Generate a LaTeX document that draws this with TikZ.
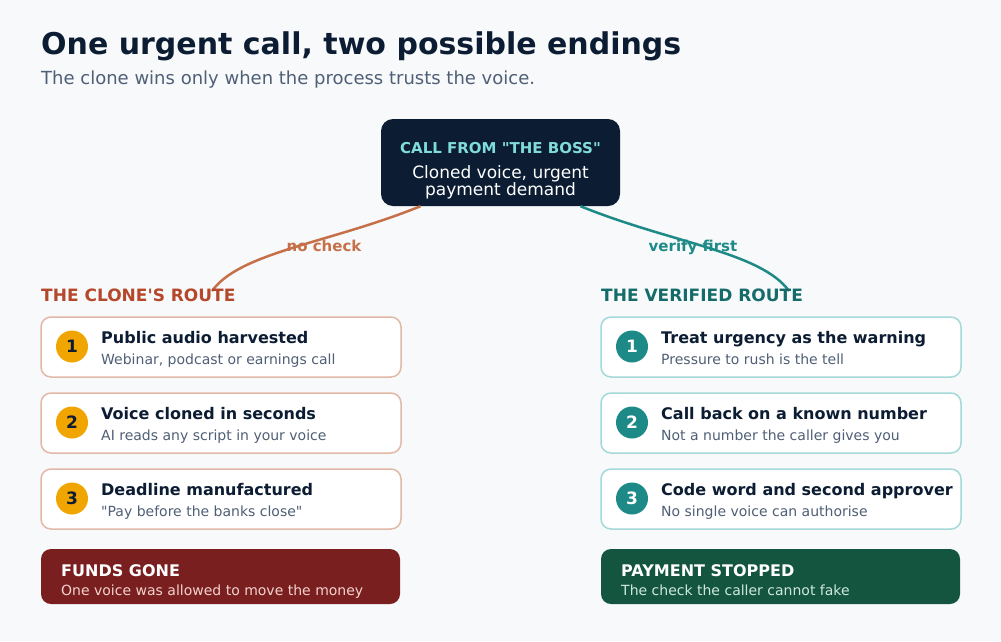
\documentclass[tikz,border=0pt]{standalone}
\usepackage{fontspec}
\setmainfont{DejaVu Sans}[Ligatures=TeXOff]
\usetikzlibrary{positioning}
\definecolor{pagebg}{HTML}{F7F9FB}
\definecolor{navy}{HTML}{0C1D33}
\definecolor{slate}{HTML}{4F5F76}
\definecolor{clonehead}{HTML}{B5482A}
\definecolor{cloneline}{HTML}{C6704A}
\definecolor{cloneedge}{HTML}{E2B8A6}
\definecolor{amber}{HTML}{F0A500}
\definecolor{verifyhead}{HTML}{146B69}
\definecolor{verifyline}{HTML}{1E8A87}
\definecolor{verifyedge}{HTML}{A4D9D7}
\definecolor{callteal}{HTML}{80DCDA}
\definecolor{lossred}{HTML}{7A1F20}
\definecolor{losstext}{HTML}{F2D3CF}
\definecolor{savegreen}{HTML}{13553F}
\definecolor{savetext}{HTML}{CFE8DD}
\newcommand{\fsz}[1]{\fontsize{#1}{#1}\selectfont}

\begin{document}
\begin{tikzpicture}[x=1pt, y=-1pt,
    txt/.style={inner sep=0pt, anchor=base west},
    card/.style={draw, line width=1.5pt, fill=white, rounded corners=10pt,
        minimum width=360pt, minimum height=60pt, inner sep=0pt},
    numdot/.style={circle, minimum size=32pt, inner sep=0pt, font=\fsz{17}\bfseries},
    endbox/.style={rounded corners=10pt, minimum width=359pt, minimum height=55pt, inner sep=0pt},
    route/.style={line width=2.5pt}]
        \fill[pagebg] (0,0) rectangle (1001,641);
        % title
        \node[txt, text=navy, font=\fsz{30}\bfseries] (title) at (41,54) {One urgent call, two possible endings};
        \node[txt, text=slate, font=\fsz{18}] (subtitle) at (41,84) {The clone wins only when the process trusts the voice.};
        % the call
        \node[fill=navy, rounded corners=12pt, minimum width=239pt, minimum height=87pt] (call) at (500.5,162.5) {};
        \node[inner sep=0pt, anchor=base, text=callteal, font=\fsz{15}\bfseries] (callhead) at (500.5,153.3) {CALL FROM "THE BOSS"};
        \node[inner sep=0pt, anchor=base, text=white, font=\fsz{17}] (callline1) at (500.5,178.5) {Cloned voice, urgent};
        \node[inner sep=0pt, anchor=base, text=white, font=\fsz{17}] (callline2) at (500.5,195.5) {payment demand};
        % two routes
        \coordinate (clonein) at (212,291);
        \coordinate (verifyin) at (789,291);
        \draw[route, cloneline] ([xshift=-80pt]call.south) .. controls (330,243) and (240,252) .. (clonein);
        \draw[route, verifyline] ([xshift=80pt]call.south) .. controls (671,243) and (761,252) .. (verifyin);
        \node[inner sep=0pt, anchor=base, text=cloneline, font=\fsz{15}\bfseries] (nocheck) at (324,251) {no check};
        \node[inner sep=0pt, anchor=base, text=verifyline, font=\fsz{15}\bfseries] (verify) at (693,251) {verify first};
        \node[txt, text=clonehead, font=\fsz{17}\bfseries] (clonehd) at (41,301) {THE CLONE'S ROUTE};
        \node[txt, text=verifyhead, font=\fsz{17}\bfseries] (verifyhd) at (601,301) {THE VERIFIED ROUTE};
        % left steps
        \foreach \n/\ttl/\sub [count=\i from 0] in {1/{Public audio harvested}/{Webinar, podcast or earnings call},
                2/{Voice cloned in seconds}/{AI reads any script in your voice},
                3/{Deadline manufactured}/{"Pay before the banks close"}}{
            \node[card, draw=cloneedge] (cstep\n) at (221,347+76*\i) {};
            \node[numdot, fill=amber, text=navy] (cnum\n) at (72,346.5+76*\i) {\n};
            \node[txt, text=navy, font=\fsz{16}\bfseries] (ctitle\n) at (101,343.5+76*\i) {\ttl};
            \node[txt, text=slate, font=\fsz{14}] (csub\n) at (101,364+76*\i) {\sub};
        }
        % right steps
        \foreach \n/\ttl/\sub [count=\i from 0] in {1/{Treat urgency as the warning}/{Pressure to rush is the tell},
                2/{Call back on a known number}/{Not a number the caller gives you},
                3/{Code word and second approver}/{No single voice can authorise}}{
            \node[card, draw=verifyedge] (vstep\n) at (781,347+76*\i) {};
            \node[numdot, fill=verifyline, text=white] (vnum\n) at (632,346.5+76*\i) {\n};
            \node[txt, text=navy, font=\fsz{16}\bfseries] (vtitle\n) at (661,343.5+76*\i) {\ttl};
            \node[txt, text=slate, font=\fsz{14}] (vsub\n) at (661,364+76*\i) {\sub};
        }
        % endings
        \node[endbox, fill=lossred] (lost) at (220.5,576.5) {};
        \node[txt, text=white, font=\fsz{16}\bfseries] (losthd) at (61,576) {FUNDS GONE};
        \node[txt, text=losstext, font=\fsz{14}] (lostsub) at (61,595) {One voice was allowed to move the money};
        \node[endbox, fill=savegreen] (saved) at (780.5,576.5) {};
        \node[txt, text=white, font=\fsz{16}\bfseries] (savedhd) at (621,576) {PAYMENT STOPPED};
        \node[txt, text=savetext, font=\fsz{14}] (savedsub) at (621,595) {The check the caller cannot fake};
\end{tikzpicture}
\end{document}
